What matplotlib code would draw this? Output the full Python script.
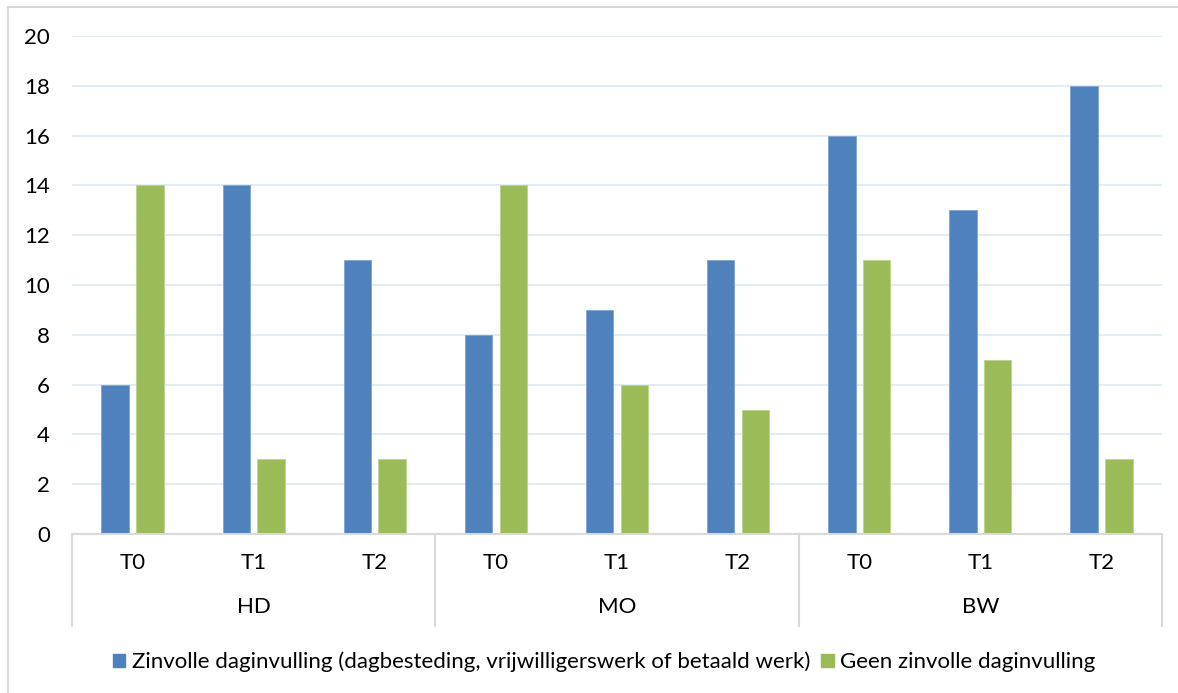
import matplotlib
matplotlib.use("Agg")
import matplotlib.pyplot as plt
import numpy as np
from matplotlib.patches import Rectangle
from matplotlib.lines import Line2D

groups = ["HD", "MO", "BW"]
periods = ["T0", "T1", "T2"]
series_names = ["Zinvolle daginvulling (dagbesteding, vrijwilligerswerk of betaald werk)",
                "Geen zinvolle daginvulling"]
zinvolle = [6, 14, 11, 8, 9, 11, 16, 13, 18]
geen = [14, 3, 3, 14, 6, 5, 11, 7, 3]
yticks = [0, 2, 4, 6, 8, 10, 12, 14, 16, 18, 20]

blue = "#4F81BD"
green = "#9BBB59"
grid_c = "#DCEAF3"
axis_c = "#D9D9D9"
fs = 16

plt.rcParams['font.family'] = ['Lato', 'DejaVu Sans']

fig = plt.figure(figsize=(11.78, 6.93), dpi=100)
ax = fig.add_axes([72/1178, 1-534/693, (1162-72)/1178, (534-36)/693])

n = len(zinvolle)
x = np.arange(n)
w = 0.227
off = w/2 + 0.03
ax.bar(x - off, zinvolle, w, color=blue, edgecolor="#7FA3D0", linewidth=0.6, zorder=3)
ax.bar(x + off, geen, w, color=green, edgecolor="#BCD38E", linewidth=0.6, zorder=3)

ax.set_xlim(-0.5, n - 0.5)
ax.set_ylim(0, 20)
ax.set_yticks(yticks)
ax.set_yticklabels([str(v) for v in yticks], fontsize=fs, color="#000000")
ax.tick_params(axis='y', length=0, pad=16)
ax.set_xticks([])
for yv in yticks[1:]:
    ax.axhline(yv, color=grid_c, linewidth=1.2, zorder=1)
for s in ax.spines.values():
    s.set_visible(False)
ax.axhline(0, color=axis_c, linewidth=1.5, zorder=4, clip_on=False)

trans = ax.get_xaxis_transform()
bottom = (534 - 626) / 498
for b in [-0.5, 2.5, 5.5, 8.5]:
    ax.add_line(Line2D([b, b], [0, bottom], transform=trans, color=axis_c,
                       linewidth=1.5, clip_on=False))
for i in range(n):
    ax.text(i, (534 - 563) / 498, periods[i % 3], transform=trans, ha='center',
            va='center', fontsize=fs)
for g, name in enumerate(groups):
    ax.text(3 * g + 1, (534 - 607) / 498, name, transform=trans, ha='center',
            va='center', fontsize=fs)

# outer chart border (partially visible)
fig.patches.append(Rectangle((8/1178, -0.1), 1.2, 1 - 7/693 + 0.1, transform=fig.transFigure,
                             fill=False, edgecolor="#D9D9D9", linewidth=1.5))

handles = [Rectangle((0, 0), 1, 1, color=blue), Rectangle((0, 0), 1, 1, color=green)]
fig.legend(handles, series_names, loc='center', bbox_to_anchor=(0.513, 1 - 662/693),
           ncol=2, frameon=False, fontsize=fs, handlelength=0.55, handleheight=0.55,
           handletextpad=0.3, columnspacing=0.5)

fig.savefig("out.png", dpi=100)
